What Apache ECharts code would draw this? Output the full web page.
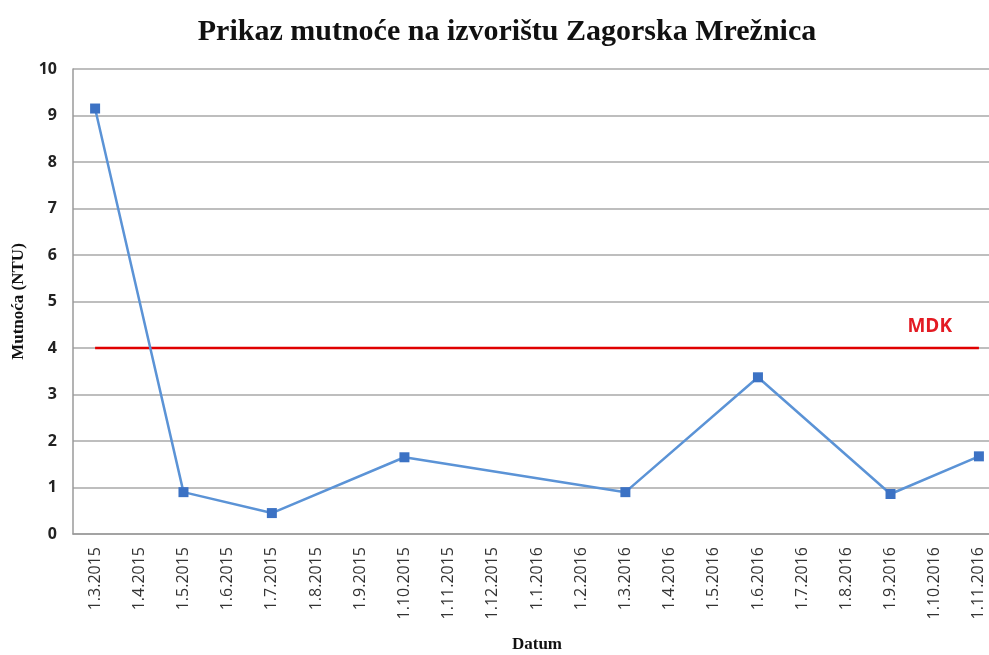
<!DOCTYPE html>
<html>
<head>
<meta charset="utf-8">
<script src="https://cdn.jsdelivr.net/npm/echarts@6/dist/echarts.min.js"></script>
<style>
  html, body { margin: 0; padding: 0; background: #fff; }
  #chart { width: 989px; height: 655px; }
</style>
</head>
<body>
<div id="chart"></div>
<script>
// mjeseci na osi x
const datumi = [
  "1.3.2015", "1.4.2015", "1.5.2015", "1.6.2015", "1.7.2015", "1.8.2015",
  "1.9.2015", "1.10.2015", "1.11.2015", "1.12.2015", "1.1.2016", "1.2.2016",
  "1.3.2016", "1.4.2016", "1.5.2016", "1.6.2016", "1.7.2016", "1.8.2016",
  "1.9.2016", "1.10.2016", "1.11.2016"
];
// izmjerena mutnoća (NTU), null = nema mjerenja
const mutnoca = [
  9.15, null, 0.9, null, 0.45, null,
  null, 1.65, null, null, null, null,
  0.9, null, null, 3.37, null, null,
  0.86, null, 1.67
];
// maksimalna dopuštena koncentracija
const mdk = datumi.map(() => 4);
const mdkOznaka = "MDK";
const mdkOznakaIndeks = 19;

const chart = echarts.init(document.getElementById("chart"));

chart.setOption({
  animation: false,
  title: {
    text: "Prikaz mutnoće na izvorištu Zagorska Mrežnica",
    left: 502,
    textAlign: "center",
    top: 12,
    textStyle: {
      fontFamily: "Liberation Serif",
      fontSize: 30,
      fontWeight: "bold",
      color: "#111",
    },
  },
  grid: {
    left: 73,
    right: -12,
    top: 69,
    bottom: 121,
    outerBoundsMode: "none",
    containLabel: false,
  },
  xAxis: {
    type: "category",
    data: datumi,
    boundaryGap: true,
    name: "Datum",
    nameLocation: "middle",
    nameGap: 102,
    nameTextStyle: {
      fontFamily: "Liberation Serif",
      fontSize: 17,
      fontWeight: "bold",
      color: "#111",
    },
    axisLine: { lineStyle: { color: "#9a9a9a", width: 1.5 } },
    axisTick: { show: false },
    axisLabel: {
      interval: 0,
      rotate: 90,
      margin: 13,
      fontFamily: "Open Sans",
      fontSize: 16,
      color: "#333",
    },
  },
  yAxis: {
    type: "value",
    min: 0,
    max: 10,
    interval: 1,
    name: "Mutnoća (NTU)",
    nameLocation: "middle",
    nameGap: 46,
    nameTextStyle: {
      fontFamily: "Liberation Serif",
      fontSize: 17,
      fontWeight: "bold",
      color: "#111",
    },
    axisLine: { show: true, lineStyle: { color: "#9a9a9a", width: 1.5 } },
    axisTick: { show: false },
    splitLine: { lineStyle: { color: "#a8a8a8", width: 1.5 } },
    axisLabel: {
      margin: 16,
      fontFamily: "Open Sans",
      fontSize: 16,
      fontWeight: "bold",
      color: "#222",
    },
  },
  series: [
    {
      name: "MDK",
      type: "line",
      data: mdk.map((v, i) =>
        i === mdkOznakaIndeks
          ? {
              value: v,
              label: {
                show: true,
                position: "top",
                distance: 12,
                offset: [-5, 0],
                formatter: mdkOznaka,
                fontFamily: "Open Sans",
                fontSize: 19,
                fontWeight: "bold",
                color: "#e31b23",
              },
            }
          : v
      ),
      showSymbol: true,
      symbol: "circle",
      symbolSize: 0,
      lineStyle: { color: "#e00000", width: 2.5 },
      itemStyle: { color: "#e00000" },
      z: 2,
    },
    {
      name: "Mutnoća",
      type: "line",
      data: mutnoca,
      connectNulls: true,
      symbol: "rect",
      symbolSize: 10,
      lineStyle: { color: "#5b93d6", width: 2.5 },
      itemStyle: { color: "#3c72c4" },
      z: 3,
    },
  ],
});
</script>
</body>
</html>
